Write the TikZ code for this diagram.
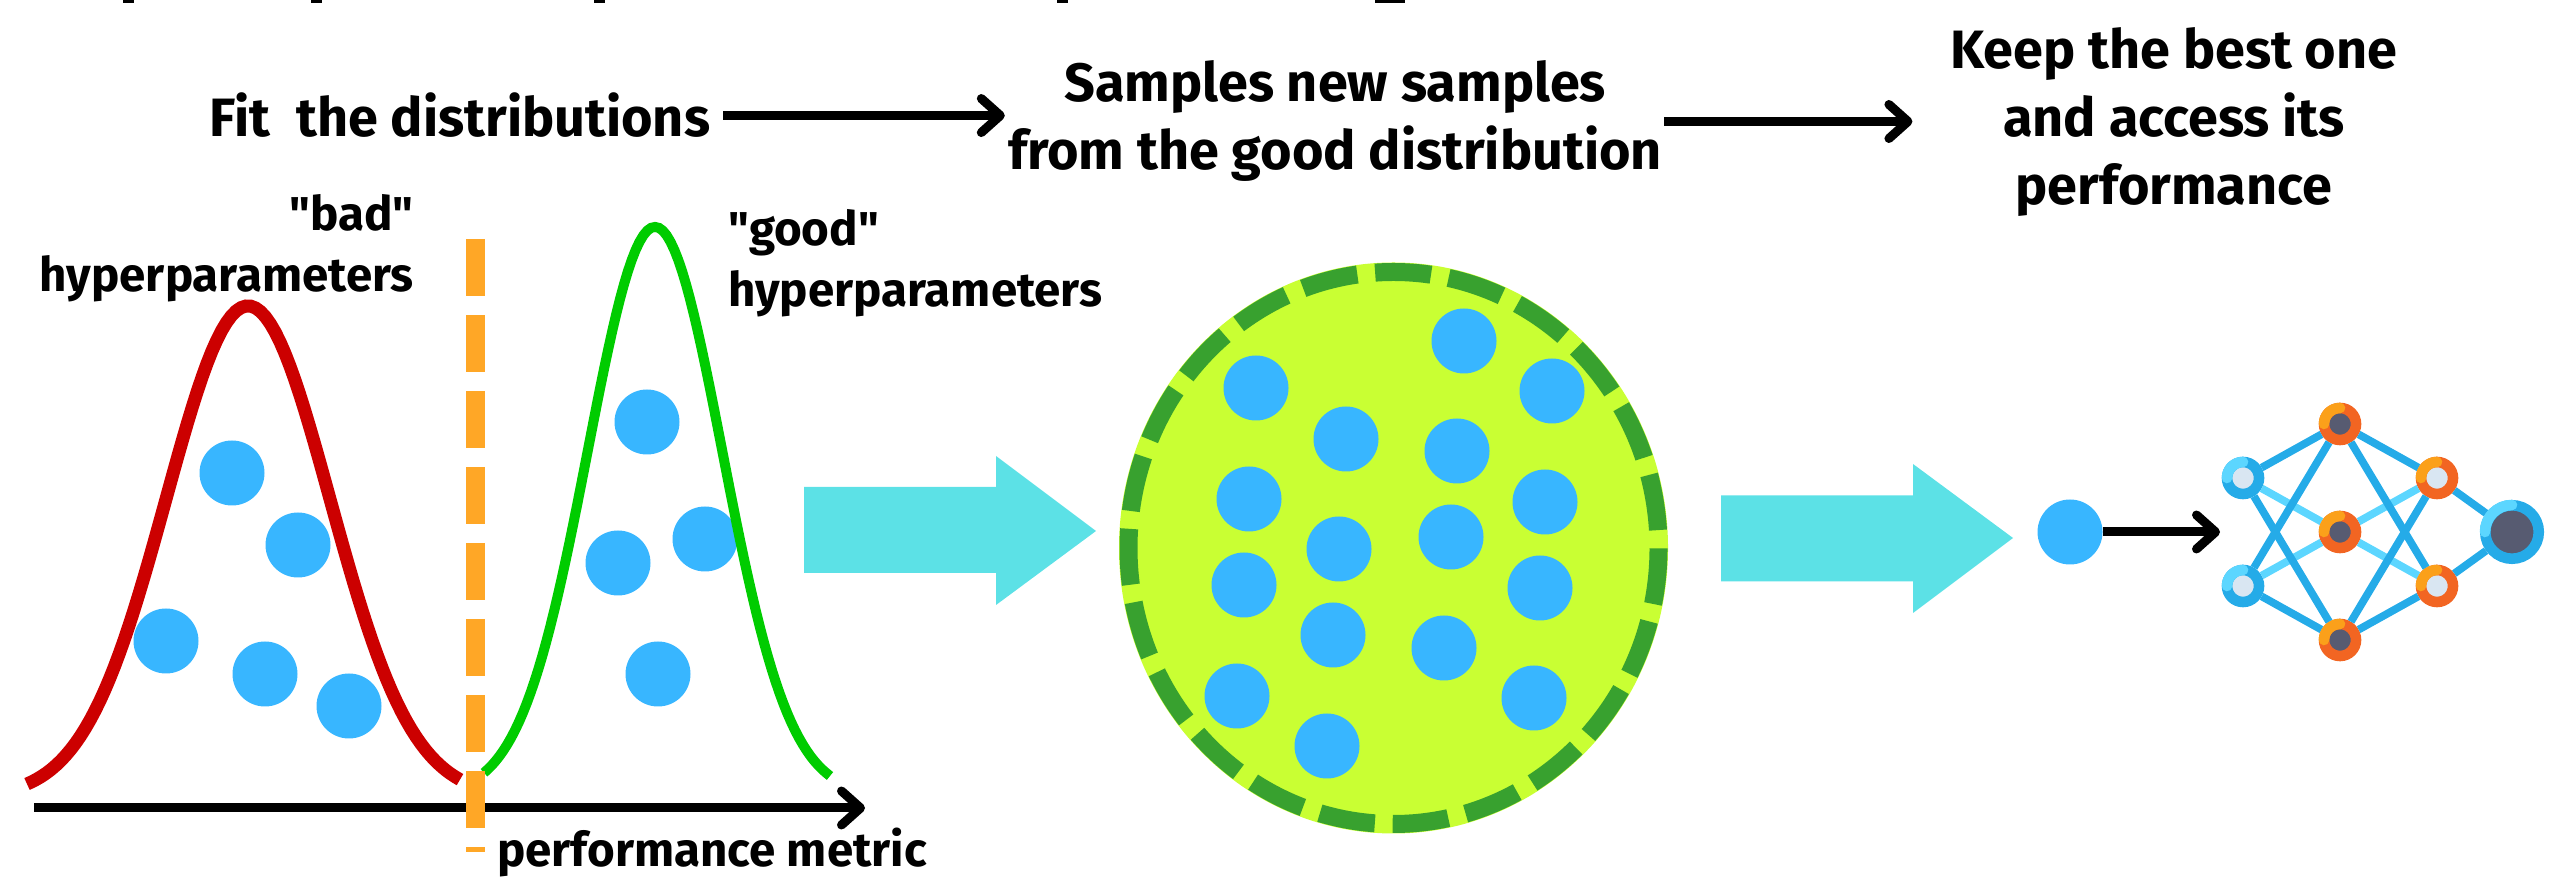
\documentclass[tikz,border=0pt]{standalone}
\usepackage{fontspec}
\newfontfamily\labelfont{Fira Sans}
\usetikzlibrary{arrows.meta}

\definecolor{dotblue}{HTML}{38B6FF}
\definecolor{bigcyan}{HTML}{5CE1E6}
\definecolor{limefill}{HTML}{C9FF33}
\definecolor{ringgreen}{HTML}{38A12F}
\definecolor{cutorange}{HTML}{FFA726}
\definecolor{badred}{HTML}{CC0000}
\definecolor{goodgreen}{HTML}{00CC00}
\definecolor{netblue}{HTML}{25ABE8}
\definecolor{netlight}{HTML}{5CD6FF}
\definecolor{netorange}{HTML}{F26522}
\definecolor{netamber}{HTML}{FBA01A}
\definecolor{netdark}{HTML}{575B71}
\definecolor{netpale}{HTML}{D9E6F2}

\newcommand{\nnarc}[3]{\draw[#2, line width=10.6pt, line cap=round]
  ([shift={(180:#3)}]#1.center) arc[start angle=180, end angle=90, radius=#3];}

\begin{document}
\begin{tikzpicture}[x=1pt, y=1pt]

  \tikzset{
    bigtext/.style={
      font=\labelfont\bfseries\fontsize{54}{68}\selectfont,
      inner sep=0pt,
      align=center
    },
    smalltext/.style={
      font=\labelfont\bfseries\fontsize{47.5}{62}\selectfont,
      inner sep=0pt
    },
    mydot/.style={
      circle,
      fill=dotblue,
      minimum size=65pt,
      inner sep=0pt
    },
    flow/.style={
      black,
      line width=9pt,
      -{Straight Barb[length=19pt, width=34pt, round]}
    },
    bigarrow/.style={fill=bigcyan},
    inputnode/.style={
      circle,
      draw=netblue,
      fill=netpale,
      line width=10.6pt,
      minimum size=32pt,
      inner sep=0pt
    },
    hiddennode/.style={inputnode, draw=netorange, fill=netdark},
    paleorange/.style={inputnode, draw=netorange},
    outnode/.style={inputnode, fill=netdark, minimum size=53.5pt},
    darkedge/.style={netblue, line width=7.7pt},
    lightedge/.style={netlight, line width=7.7pt}
  }

  \useasboundingbox (0pt, 0pt) rectangle (2555pt, 888pt);

  % cut off line at the top
  \fill[black] (123pt, 885pt) rectangle (134pt, 888pt);
  \fill[black] (311pt, 885pt) rectangle (322pt, 888pt);
  \fill[black] (594pt, 885pt) rectangle (605pt, 888pt);
  \fill[black] (1057pt, 885pt) rectangle (1068pt, 888pt);
  \fill[black] (1375pt, 885pt) rectangle (1405pt, 888pt);

  % top row
  \node[bigtext, anchor=base] (fit) at (460pt, 751pt) {Fit\ \ the distributions};
  \node[bigtext] (samples) at (1335pt, 766.5pt) {Samples new samples\\from the good distribution};
  \node[bigtext] (keep) at (2174pt, 766pt) {Keep the best one\\and access its\\performance};

  \draw[flow, shorten <=13pt, shorten >=3pt] (fit.east) -- (fit.east -| samples.west);
  \draw[flow, shorten <=2pt, shorten >=38pt] (samples.east) -- (samples.east -| keep.west);

  % distributions
  \node[smalltext, anchor=base east] (badlabel) at (414pt, 657pt) {"bad"};
  \node[smalltext, anchor=base east] (badhyper) at (414pt, 596pt) {hyperparameters};
  \node[smalltext, anchor=base west] (goodlabel) at (728pt, 642pt) {"good"};
  \node[smalltext, anchor=base west] (goodhyper) at (728pt, 581pt) {hyperparameters};
  \node[smalltext, anchor=base west] (metric) at (497pt, 21pt) {performance metric};

  \node[mydot] (b1) at (232pt, 415pt) {};
  \node[mydot] (b2) at (298pt, 343pt) {};
  \node[mydot] (b3) at (166pt, 247pt) {};
  \node[mydot] (b4) at (265pt, 214pt) {};
  \node[mydot] (b5) at (349pt, 182pt) {};

  \node[mydot] (g1) at (647pt, 466pt) {};
  \node[mydot] (g2) at (705pt, 349pt) {};
  \node[mydot] (g3) at (618pt, 325pt) {};
  \node[mydot] (g4) at (658pt, 214pt) {};

  \draw[badred, line width=13pt] plot[domain=27:460, samples=90]
    (\x, {91+491*exp(-(\x-248)/116*(\x-248)/116)});
  \draw[goodgreen, line width=10pt] plot[domain=484:830, samples=90]
    (\x, {93+568*exp(-(\x-655)/95*(\x-655)/95)});

  \coordinate (axstart) at (34pt, 80pt);
  \coordinate (axend) at (865pt, 80pt);
  \draw[flow] (axstart) -- (axend);

  \coordinate (cuttop) at (475pt, 649pt);
  \coordinate (cutbottom) at (475pt, 36pt);
  \draw[cutorange, line width=19pt, dash pattern=on 56.6pt off 19.4pt] (cuttop) -- (cutbottom);

  % first big arrow
  \fill[bigarrow] (804pt, 401pt) -- (996pt, 401pt) -- (996pt, 432pt) -- (1096pt, 357pt)
    -- (996pt, 283pt) -- (996pt, 315pt) -- (804pt, 315pt) -- cycle;

  % sampled points
  \fill[limefill] (1393.5pt, 340pt) ellipse [x radius=274.5pt, y radius=285.5pt];
  \draw[ringgreen, line width=18pt, dash pattern=on 56pt off 17.9pt, dash phase=56pt]
    (1393.5pt, 340pt) ellipse [x radius=265pt, y radius=276pt];

  \node[mydot] (s1) at (1464pt, 547pt) {};
  \node[mydot] (s2) at (1552pt, 497pt) {};
  \node[mydot] (s3) at (1256pt, 500pt) {};
  \node[mydot] (s4) at (1346pt, 449pt) {};
  \node[mydot] (s5) at (1457pt, 437pt) {};
  \node[mydot] (s6) at (1545pt, 386pt) {};
  \node[mydot] (s7) at (1249pt, 389pt) {};
  \node[mydot] (s8) at (1339pt, 339pt) {};
  \node[mydot] (s9) at (1451pt, 351pt) {};
  \node[mydot] (s10) at (1540pt, 300pt) {};
  \node[mydot] (s11) at (1244pt, 303pt) {};
  \node[mydot] (s12) at (1333pt, 253pt) {};
  \node[mydot] (s13) at (1444pt, 240pt) {};
  \node[mydot] (s14) at (1534pt, 190pt) {};
  \node[mydot] (s15) at (1237pt, 192pt) {};
  \node[mydot] (s16) at (1327pt, 142pt) {};

  % second big arrow
  \fill[bigarrow] (1721pt, 392.5pt) -- (1913pt, 392.5pt) -- (1913pt, 424pt) -- (2013pt, 350pt)
    -- (1913pt, 275pt) -- (1913pt, 306.5pt) -- (1721pt, 306.5pt) -- cycle;

  % network
  \node[mydot] (best) at (2070pt, 356pt) {};
  \coordinate (netin) at (2220pt, 356pt);
  \draw[flow] (best) -- (netin);

  \node[inputnode] (i1) at (2243pt, 410pt) {};
  \node[inputnode] (i2) at (2243pt, 302pt) {};
  \node[hiddennode] (h1) at (2340pt, 464pt) {};
  \node[hiddennode] (h2) at (2340pt, 356pt) {};
  \node[hiddennode] (h3) at (2340pt, 248pt) {};
  \node[paleorange] (t1) at (2437pt, 410pt) {};
  \node[paleorange] (t2) at (2437pt, 302pt) {};
  \node[outnode] (out) at (2512pt, 356pt) {};

  \draw[lightedge] (i1) -- (h2);
  \draw[lightedge] (i2) -- (h2);
  \draw[lightedge] (h2) -- (t1);
  \draw[lightedge] (h2) -- (t2);

  \draw[darkedge] (i1) -- (h1);
  \draw[darkedge] (i1) -- (h3);
  \draw[darkedge] (i2) -- (h1);
  \draw[darkedge] (i2) -- (h3);
  \draw[darkedge] (h1) -- (t1);
  \draw[darkedge] (h1) -- (t2);
  \draw[darkedge] (h3) -- (t1);
  \draw[darkedge] (h3) -- (t2);
  \draw[darkedge] (t1) -- (out);
  \draw[darkedge] (t2) -- (out);

  \nnarc{i1}{netlight}{16pt}
  \nnarc{i2}{netlight}{16pt}
  \nnarc{h1}{netamber}{16pt}
  \nnarc{h2}{netamber}{16pt}
  \nnarc{h3}{netamber}{16pt}
  \nnarc{t1}{netamber}{16pt}
  \nnarc{t2}{netamber}{16pt}
  \nnarc{out}{netlight}{27pt}

\end{tikzpicture}
\end{document}
